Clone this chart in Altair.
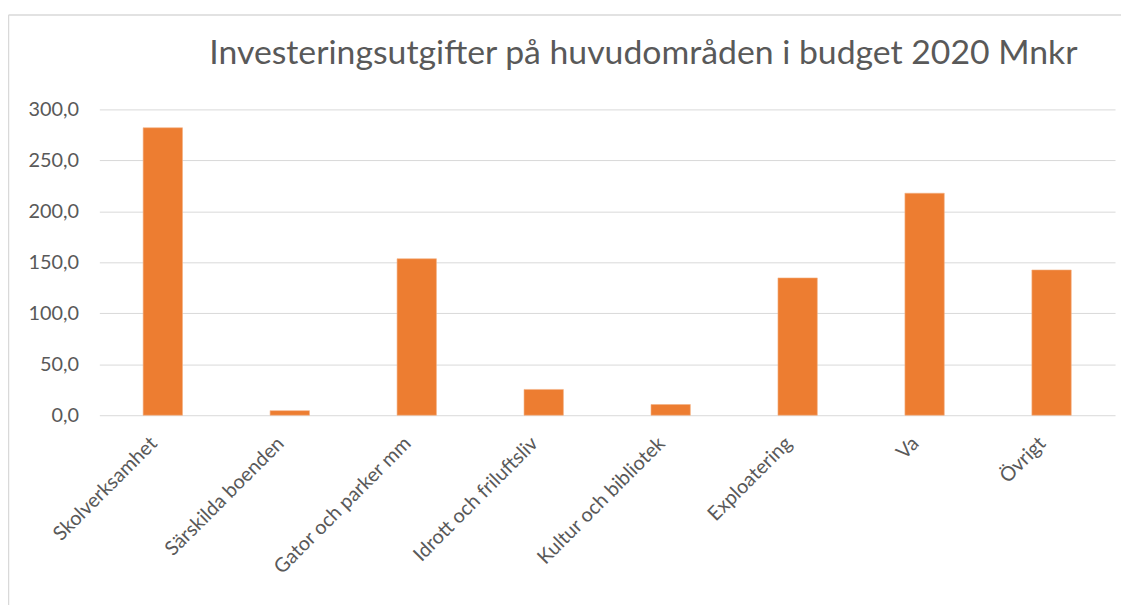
import altair as alt
import pandas as pd

categories = ["Skolverksamhet", "Särskilda boenden", "Gator och parker mm",
              "Idrott och friluftsliv", "Kultur och bibliotek", "Exploatering",
              "Va", "Övrigt"]
values = [282.0, 4.5, 153.5, 25.3, 10.5, 134.7, 217.8, 142.5]
title_text = "Investeringsutgifter på huvudområden i budget 2020 Mnkr"

df = pd.DataFrame({"kategori": categories, "varde": values})

W, H = 1023, 308
FONT = "Lato"
GREY = "#595959"

bars = alt.Chart(df).mark_bar(color="#ED7D31", stroke="#F4B183", strokeWidth=0.6).encode(
    x=alt.X("kategori:N", sort=categories, title=None,
            scale=alt.Scale(paddingInner=0.69, paddingOuter=0.345),
            axis=alt.Axis(labelAngle=-45, labelAlign="right", labelBaseline="top",
                          labelPadding=18, labelOffset=-16, ticks=False, domain=False,
                          labelFont=FONT, labelFontSize=20, labelColor=GREY,
                          labelLimit=300)),
    y=alt.Y("varde:Q", title=None,
            scale=alt.Scale(domain=[0, 300], nice=False),
            axis=alt.Axis(values=[0, 50, 100, 150, 200, 250, 300],
                          labelExpr="replace(format(datum.value, '.1f'), '.', ',')",
                          ticks=False, domain=False, labelPadding=21,
                          labelFont=FONT, labelFontSize=20, labelColor=GREY,
                          grid=True, gridColor="#D9D9D9", gridWidth=1)),
)

title = alt.Chart(pd.DataFrame({"t": [title_text]})).mark_text(
    font=FONT, fontSize=34, color=GREY, align="center", baseline="alphabetic"
).encode(x=alt.value(548), y=alt.value(-46), text="t:N")

border_top = alt.Chart(pd.DataFrame({"a": [0]})).mark_rule(color="#D9D9D9", strokeWidth=1.5).encode(
    x=alt.value(-91.5), x2=alt.value(W + 40), y=alt.value(-95))
border_left = alt.Chart(pd.DataFrame({"a": [0]})).mark_rule(color="#D9D9D9", strokeWidth=1.5).encode(
    x=alt.value(-91.5), y=alt.value(-95), y2=alt.value(H + 200))

chart = alt.layer(border_top, border_left, bars, title).properties(
    width=W, height=H,
    autosize=alt.AutoSizeParams(type="none"),
    padding={"left": 92, "top": 100, "right": 6, "bottom": 189},
    background="white",
).configure_view(strokeWidth=0, stroke="transparent")

chart.save("out.html", embed_options={"renderer": "svg", "actions": False})
